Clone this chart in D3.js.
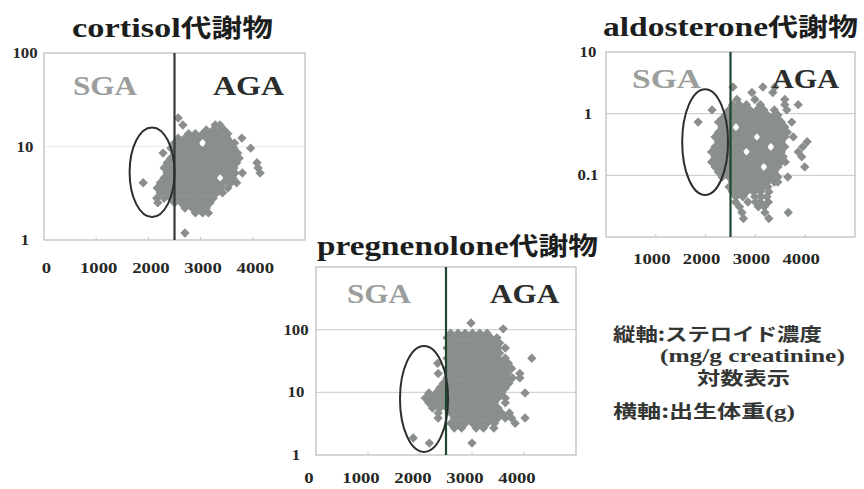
<!DOCTYPE html>
<html>
<head>
<meta charset="utf-8">
<script src="https://cdn.jsdelivr.net/npm/d3@7"></script>
<style>
  body { margin: 0; background: #fff; }
  svg { display: block; }
</style>
</head>
<body>
<svg id="chart" width="864" height="489"></svg>
<script>
// Birth weight (g) on x, steroid metabolite concentration (mg/g creatinine, log) on y.
const xTicks = [0, 1000, 2000, 3000, 4000];
const sgaCutoff = 2500;

const cortisolYTicks = [1, 10, 100];
const aldosteroneYTicks = [0.1, 1, 10];
const pregnenoloneYTicks = [1, 10, 100];

// SGA cluster outline: [xMin, xMax, yMin, yMax] in data units
const cortisolEllipse = [1640, 2500, 1.76, 16];
const aldosteroneEllipse = [1530, 2450, 0.048, 2.5];
const pregnenoloneEllipse = [1615, 2540, 1.12, 55];

// Points grouped by concentration: [value, [birth weights...]]
const cortisolRows = [
  [20.2, [2570]],
  [17.0, [2660, 3280, 3370]],
  [15.0, [3110, 3240, 3370, 3450]],
  [13.7, [2770, 2900, 3040, 3170, 3310, 3440, 3520]],
  [12.3, [2570, 2700, 2840, 2970, 3110, 3240, 3380, 3510, 3790]],
  [10.9, [2500, 2630, 2770, 2900, 3170, 3310, 3440, 3580, 3650]],
  [9.6, [2430, 2570, 2700, 2840, 2970, 3100, 3240, 3380, 3510, 3640, 3960]],
  [8.5, [2280, 2500, 2630, 2770, 2900, 3040, 3170, 3310, 3440, 3580, 3710]],
  [7.5, [2430, 2570, 2700, 2840, 2970, 3110, 3240, 3370, 3510, 3640, 3740]],
  [6.7, [2360, 2500, 2630, 2770, 2900, 3040, 3170, 3310, 3440, 3580, 3690, 4080]],
  [5.9, [2300, 2430, 2570, 2700, 2840, 2970, 3110, 3240, 3380, 3510, 3640, 4100]],
  [5.2, [2360, 2500, 2630, 2770, 2900, 3040, 3170, 3310, 3440, 3580, 3660, 3800, 4140]],
  [4.6, [2300, 2430, 2570, 2700, 2840, 2970, 3110, 3240, 3510, 3620]],
  [4.1, [1900, 2230, 2360, 2500, 2630, 2770, 2900, 3040, 3170, 3310, 3440, 3580, 3690]],
  [3.6, [2170, 2300, 2430, 2570, 2700, 2840, 2970, 3110, 3240, 3380, 3520]],
  [3.2, [2230, 2360, 2500, 2630, 2770, 2900, 3040, 3170, 3310, 3420]],
  [2.8, [2160, 2300, 2430, 2570, 2700, 2840, 2970, 3110, 3240]],
  [2.5, [2180, 2500, 2630, 2770, 2900, 3040, 3180]],
  [2.2, [2700, 2840, 2970, 3110]],
  [1.95, [2900, 3040, 3150]],
  [1.19, [2700]]
];

const aldosteroneRows = [
  [2.7, [2550, 3150, 3390]],
  [2.2, [2930, 3350]],
  [1.7, [2630, 2990, 3590]],
  [1.4, [2540, 2680, 2820, 3100, 3590, 3860]],
  [1.15, [2130, 2470, 2610, 2750, 2890, 3030, 3170, 3380, 3630]],
  [0.95, [2400, 2540, 2680, 2820, 2960, 3100, 3240, 3380, 3450]],
  [0.83, [2330, 2470, 2610, 2750, 2890, 3030, 3170, 3310, 3450]],
  [0.73, [1850, 2260, 2400, 2540, 2680, 2820, 2960, 3100, 3240, 3380, 3520, 3730]],
  [0.61, [2330, 2470, 2750, 2890, 3030, 3170, 3310, 3450, 3590]],
  [0.50, [2260, 2400, 2540, 2680, 2820, 2960, 3100, 3240, 3380, 3520, 3640]],
  [0.42, [2190, 2330, 2470, 2610, 2750, 2890, 3170, 3310, 3450, 3590, 3760]],
  [0.35, [2260, 2400, 2540, 2680, 2820, 2960, 3100, 3240, 3380, 3520, 4040]],
  [0.29, [2190, 2330, 2470, 2610, 2750, 2890, 3030, 3170, 3450, 3590, 3950]],
  [0.24, [2120, 2260, 2400, 2540, 2680, 2960, 3100, 3240, 3380, 3520, 3860]],
  [0.20, [2190, 2330, 2470, 2610, 2750, 2890, 3030, 3170, 3310, 3450, 3560, 3930]],
  [0.165, [2120, 2260, 2400, 2540, 2680, 2820, 2960, 3100, 3240, 3380, 3520, 3600]],
  [0.137, [2190, 2330, 2470, 2610, 2750, 2890, 3030, 3310, 3450, 3990]],
  [0.113, [2260, 2400, 2540, 2680, 2820, 2960, 3100, 3240, 3380]],
  [0.094, [2330, 2470, 2610, 2750, 2890, 3030, 3170, 3310, 3450, 3650]],
  [0.078, [2540, 2680, 2820, 2960, 3100, 3240, 3380, 3450]],
  [0.065, [2470, 2610, 2750, 2890, 3030, 3170, 3250]],
  [0.054, [2540, 2680, 2820, 2960, 3100, 3270]],
  [0.045, [2610, 2750, 2990, 3120, 3230]],
  [0.037, [2600, 2850, 3000, 3100, 3260]],
  [0.031, [2680, 3060, 3180]],
  [0.025, [2730, 3190, 3660]],
  [0.020, [2760, 3270]]
];

const pregnenoloneRows = [
  [128, [2980]],
  [103, [3600]],
  [88, [2590, 2730, 2870, 3010, 3150, 3290]],
  [74, [2520, 2660, 2800, 2940, 3080, 3220, 3360, 3480]],
  [61, [2590, 2730, 2870, 3010, 3150, 3290, 3430, 3530]],
  [51, [2520, 2660, 2800, 2940, 3080, 3220, 3360, 3500, 3640]],
  [42, [2590, 2730, 2870, 3010, 3150, 3290, 3430, 3530]],
  [35, [2520, 2660, 2800, 2940, 3080, 3220, 3360, 3500, 3640, 4150]],
  [29, [2340, 2590, 2730, 2870, 3010, 3150, 3290, 3430, 3570, 3700]],
  [24, [2520, 2660, 2800, 2940, 3080, 3220, 3360, 3500, 3640, 3760]],
  [20, [2350, 2590, 2730, 2870, 3010, 3150, 3290, 3430, 3570, 3680, 3920]],
  [17, [2520, 2660, 2800, 2940, 3080, 3220, 3360, 3500, 3640, 3780, 3920]],
  [14, [2450, 2590, 2730, 2870, 3010, 3150, 3290, 3430, 3570, 3710]],
  [11.7, [2380, 2520, 2660, 2800, 2940, 3080, 3220, 3360, 3500, 3640]],
  [9.8, [2170, 2310, 2450, 2590, 2730, 2870, 3010, 3150, 3290, 3430, 3570, 4020]],
  [8.1, [2100, 2240, 2380, 2520, 2660, 2800, 2940, 3080, 3220, 3360, 3500, 3640]],
  [6.8, [2170, 2310, 2450, 2590, 2730, 2870, 3010, 3150, 3290, 3430, 3640]],
  [5.6, [2240, 2380, 2520, 2660, 2800, 2940, 3080, 3220, 3360, 3500]],
  [4.7, [2350, 2590, 2730, 2870, 3010, 3150, 3290, 3430, 3570, 3720]],
  [3.9, [2350, 2660, 2800, 2940, 3080, 3220, 3360, 3500, 3640, 3760, 4020]],
  [3.2, [2590, 2730, 2870, 3010, 3150, 3290, 3430, 3830]],
  [2.7, [2660, 2800, 3080, 3220, 3420]],
  [1.87, [1870]],
  [1.55, [2180, 3000]]
];

const SERIF = "Liberation Serif, Times New Roman, serif";
const CJK = "Noto Sans CJK JP, Noto Sans CJK SC, sans-serif";
const svg = d3.select('#chart');

// Stretch a text element horizontally so it spans x0..x1 at the given baseline.
function fitText(sel, x0, x1, baseline) {
  const w = sel.node().getBBox().width;
  sel.attr('transform', `translate(${x0},${baseline}) scale(${(x1 - x0) / w},1)`);
}

function mixedText(parent, parts, opts) {
  const t = parent.append('text').attr('x', 0).attr('y', 0)
    .attr('fill', opts.fill).attr('font-weight', 'bold');
  parts.forEach(([str, family, size]) => {
    t.append('tspan').attr('font-family', family).attr('font-size', size).text(str);
  });
  return t;
}

function drawPanel(cfg) {
  const g = svg.append('g');
  const x = d3.scaleLinear().domain([0, 5000]).range([cfg.left, cfg.right]);
  const y = d3.scaleLog().domain(cfg.yDomain).range([cfg.bottom, cfg.top]);

  // gridlines
  g.selectAll('line.grid').data(cfg.grid).join('line')
    .attr('x1', cfg.left).attr('x2', cfg.right)
    .attr('y1', d => y(d)).attr('y2', d => y(d))
    .attr('stroke', cfg.gridColor).attr('stroke-width', 1.2);

  // plot frame
  g.append('rect')
    .attr('x', cfg.left).attr('y', cfg.top)
    .attr('width', cfg.right - cfg.left).attr('height', cfg.bottom - cfg.top)
    .attr('fill', 'none').attr('stroke', '#b9bcba').attr('stroke-width', 1.2);

  // small tick marks along the bottom
  g.selectAll('line.xt').data(xTicks.slice(1)).join('line')
    .attr('x1', d => x(d)).attr('x2', d => x(d))
    .attr('y1', cfg.bottom).attr('y2', cfg.bottom - 3)
    .attr('stroke', '#c4c6c4');

  // points
  const pts = cfg.rows.flatMap(([v, xs]) => xs.map(w => [w, v]));
  g.selectAll('path.pt').data(pts).join('path')
    .attr('transform', d => `translate(${x(d[0])},${y(d[1])}) rotate(45)`)
    .attr('d', d3.symbol(d3.symbolSquare, 44))
    .attr('fill', '#8b8f8c');

  // SGA / AGA boundary
  g.append('line')
    .attr('x1', x(sgaCutoff)).attr('x2', x(sgaCutoff))
    .attr('y1', cfg.top).attr('y2', cfg.bottom)
    .attr('stroke', cfg.lineColor).attr('stroke-width', 2.2);

  // SGA cluster ellipse
  const [ex0, ex1, ey0, ey1] = cfg.ellipse;
  g.append('ellipse')
    .attr('cx', (x(ex0) + x(ex1)) / 2).attr('cy', (y(ey0) + y(ey1)) / 2)
    .attr('rx', (x(ex1) - x(ex0)) / 2).attr('ry', (y(ey0) - y(ey1)) / 2)
    .attr('fill', 'none').attr('stroke', '#2b302d').attr('stroke-width', 2);

  // group labels
  const sga = g.append('text').attr('font-family', SERIF).attr('font-weight', 'bold')
    .attr('font-size', 28).attr('fill', '#9c9e9d').text('SGA');
  fitText(sga, cfg.sga[0], cfg.sga[1], cfg.groupBaseline);
  const aga = g.append('text').attr('font-family', SERIF).attr('font-weight', 'bold')
    .attr('font-size', 28).attr('fill', '#2a2d2b').text('AGA');
  fitText(aga, cfg.aga[0], cfg.aga[1], cfg.groupBaseline);

  // y tick labels
  g.selectAll('text.yl').data(cfg.yTicks).join('text')
    .attr('transform', d => `translate(${cfg.yLabelX},${y(d) + 5}) scale(1.12,1)`)
    .attr('text-anchor', 'middle')
    .attr('font-family', SERIF).attr('font-weight', 'bold').attr('font-size', 15)
    .attr('fill', '#262826')
    .text(d => String(d));

  // x tick labels
  g.selectAll('text.xl').data(cfg.xLabels).join('text')
    .attr('transform', d => `translate(${x(d) + cfg.xLabelDx},${cfg.xLabelBaseline}) scale(1.25,1)`)
    .attr('text-anchor', 'middle')
    .attr('font-family', SERIF).attr('font-weight', 'bold').attr('font-size', 15)
    .attr('fill', '#262826')
    .text(d => String(d));

  // title
  const title = mixedText(svg, [[cfg.title, SERIF, 28], ['代謝物', CJK, 25]], { fill: '#1c1e1d' });
  fitText(title, cfg.titleX[0], cfg.titleX[1], cfg.titleBaseline);
}

drawPanel({
  title: 'cortisol', rows: cortisolRows, yDomain: [1, 100], yTicks: cortisolYTicks,
  grid: [10], gridColor: '#ebecea', ellipse: cortisolEllipse,
  left: 44, right: 305, top: 53, bottom: 240,
  lineColor: '#323a35', yLabelX: 25,
  xLabels: xTicks, xLabelDx: 2.5, xLabelBaseline: 273,
  titleX: [72, 273], titleBaseline: 37,
  sga: [73, 138], aga: [213, 285], groupBaseline: 95
});

drawPanel({
  title: 'aldosterone', rows: aldosteroneRows, yDomain: [0.01, 10], yTicks: aldosteroneYTicks,
  grid: [0.1, 1], gridColor: '#cfd1cf', ellipse: aldosteroneEllipse,
  left: 606, right: 855, top: 52, bottom: 237,
  lineColor: '#1e4631', yLabelX: 588,
  xLabels: xTicks.slice(1), xLabelDx: -4, xLabelBaseline: 264,
  titleX: [603, 858], titleBaseline: 36,
  sga: [632, 702], aga: [772, 840], groupBaseline: 88
});

drawPanel({
  title: 'pregnenolone', rows: pregnenoloneRows, yDomain: [1, 1000], yTicks: pregnenoloneYTicks,
  grid: [10, 100], gridColor: '#d3d5d3', ellipse: pregnenoloneEllipse,
  left: 316, right: 576, top: 267, bottom: 455,
  lineColor: '#1e4631', yLabelX: 296,
  xLabels: xTicks, xLabelDx: -7, xLabelBaseline: 483,
  titleX: [317, 598], titleBaseline: 255,
  sga: [347, 412], aga: [490, 560], groupBaseline: 303
});

// axis legend notes
const notes = svg.append('g');
const n1 = mixedText(notes, [['縦軸:ステロイド濃度', CJK, 18]], { fill: '#333533' });
fitText(n1, 613, 822, 341);
const n2 = mixedText(notes, [['(mg/g creatinine)', SERIF, 19]], { fill: '#333533' });
fitText(n2, 660, 845, 362);
const n3 = mixedText(notes, [['対数表示', CJK, 18]], { fill: '#333533' });
fitText(n3, 697, 790, 385);
const n4 = mixedText(notes, [['横軸:出生体重', CJK, 18], ['(g)', SERIF, 19]], { fill: '#333533' });
fitText(n4, 613, 795, 418);
</script>
</body>
</html>
